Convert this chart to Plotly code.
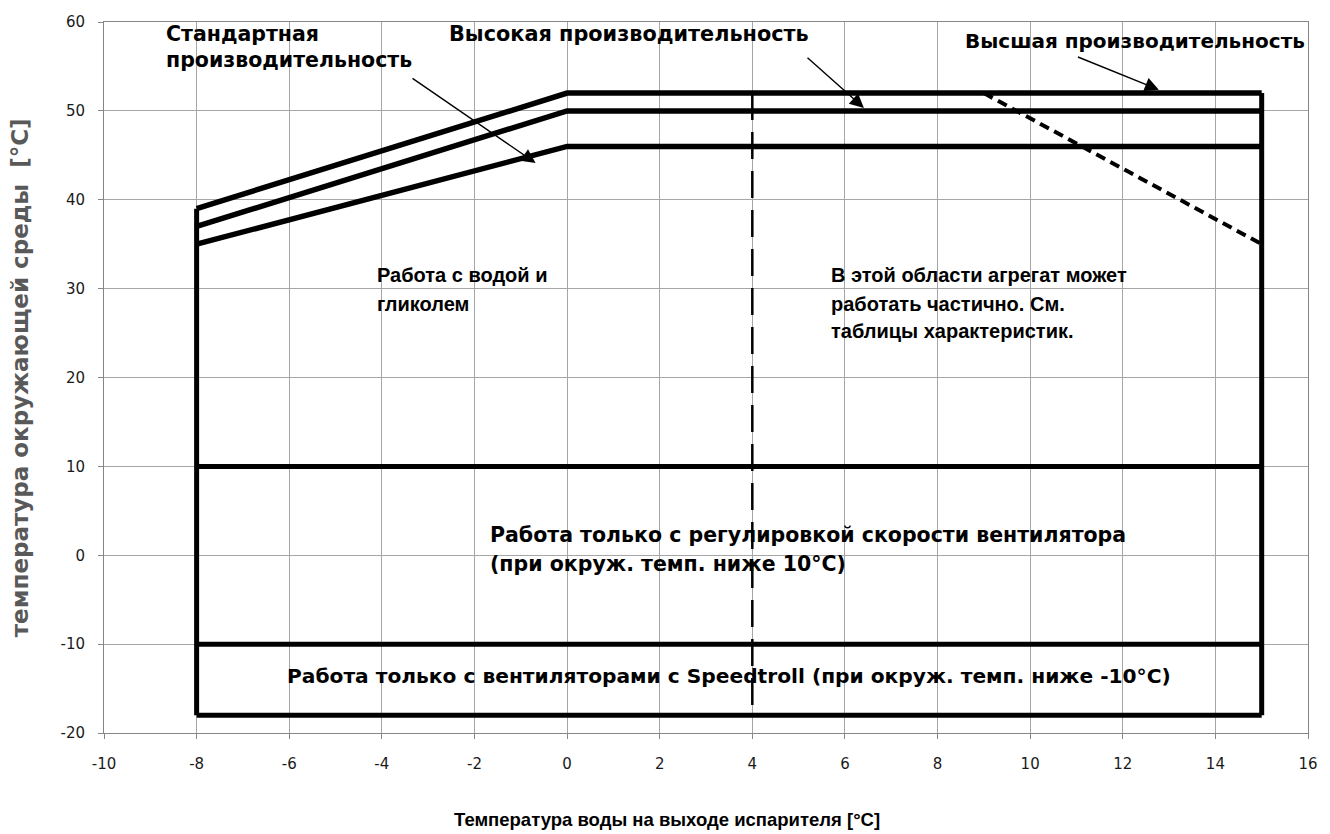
import plotly.graph_objects as go

# Operating envelope boundaries (leaving water temp, ambient temp)
curve_x = [-8, 0, 15]
standard_y = [35, 46, 46]      # standard efficiency
high_y = [37, 50, 50]          # high efficiency
premium_y = [39, 52, 52]       # premium efficiency

left_edge_x = [-8, -8]
left_edge_y = [39, -18]
right_edge_x = [15, 15]
right_edge_y = [52, -18]

band_x = [-8, 15]
fan_speed_y = [10, 10]          # below this: fan speed control required
speedtroll_y = [-10, -10]       # below this: Speedtroll fans required
floor_y = [-18, -18]

partial_x = [4, 4]
partial_y = [52, -18]

limit_x = [9, 15]
limit_y = [52, 35]

x_ticks = list(range(-10, 17, 2))
y_ticks = list(range(-20, 61, 10))
x_tick_text = [str(v) for v in x_ticks]
y_tick_text = [str(v) for v in y_ticks]

BLACK = "#000000"
WIDE = "DejaVu Sans, sans-serif"
NARROW = "Liberation Sans, Arial, sans-serif"

fig = go.Figure()

def solid(x, y, width=5):
    fig.add_trace(go.Scatter(x=x, y=y, mode="lines",
                             line=dict(color=BLACK, width=width),
                             hoverinfo="skip", showlegend=False))

for yy in (premium_y, high_y, standard_y):
    solid(curve_x, yy, 5.5)
solid(left_edge_x, left_edge_y)
solid(right_edge_x, right_edge_y)
for yy in (fan_speed_y, speedtroll_y, floor_y):
    solid(band_x, yy, 5)

fig.add_trace(go.Scatter(x=partial_x, y=partial_y, mode="lines",
                         line=dict(color=BLACK, width=2.5, dash="27px,12px"),
                         hoverinfo="skip", showlegend=False))
fig.add_trace(go.Scatter(x=limit_x, y=limit_y, mode="lines",
                         line=dict(color=BLACK, width=4, dash="10px,6px"),
                         hoverinfo="skip", showlegend=False))

# Region and curve labels, one annotation per line: (text, x, y, family, size)
labels = [
    ("Стандартная", -8.70, 58.68, WIDE, 20.5),
    ("производительность", -8.70, 55.76, WIDE, 20.5),
    ("Высокая производительность", -2.59, 58.68, WIDE, 20.8),
    ("Высшая производительность", 8.55, 57.9, WIDE, 20),
    ("Работа с водой и", -4.14, 31.57, NARROW, 20),
    ("гликолем", -4.14, 28.3, NARROW, 20),
    ("В этой области агрегат может", 5.65, 31.57, NARROW, 20),
    ("работать частично. См.", 5.65, 28.3, NARROW, 20),
    ("таблицы характеристик.", 5.65, 25.2, NARROW, 20),
    ("Работа только с регулировкой скорости вентилятора", -1.71, 2.25, WIDE, 20.5),
    ("(при окруж. темп. ниже 10°C)", -1.71, -1.0, WIDE, 20.5),
]
for text, x, y, fam, size in labels:
    fig.add_annotation(x=x, y=y, xref="x", yref="y", text=f"<b>{text}</b>",
                       showarrow=False, xanchor="left", yanchor="middle",
                       font=dict(family=fam, size=size, color=BLACK))

fig.add_annotation(x=3.5, y=-13.6, xref="x", yref="y",
                   text="<b>Работа только с вентиляторами с Speedtroll (при окруж. темп. ниже -10°C)</b>",
                   showarrow=False, xanchor="center", yanchor="middle",
                   font=dict(family=WIDE, size=20.2, color=BLACK))

# Leader arrows from the curve names to their curves: (head x, head y, tail x, tail y)
arrows = [
    (-0.68, 44.14, -3.37, 53.77),
    (6.41, 50.33, 5.16, 56.13),
    (12.78, 52.38, 11.0, 56.13),
]
for hx, hy, tx, ty in arrows:
    fig.add_annotation(x=hx, y=hy, ax=tx, ay=ty, xref="x", yref="y",
                       axref="x", ayref="y", text="", showarrow=True,
                       arrowhead=2, arrowsize=2, arrowwidth=1.4,
                       arrowcolor=BLACK)

# Axis titles
fig.add_annotation(x=0.4677, y=-0.121, xref="paper", yref="paper",
                   text="<b>Температура воды на выходе испарителя [°C]</b>",
                   showarrow=False, xanchor="center", yanchor="middle",
                   font=dict(family=NARROW, size=18.5, color=BLACK))
fig.add_annotation(x=-0.07, y=0.5, xref="paper", yref="paper",
                   text="<b>температура окружающей среды&nbsp; [°C]</b>",
                   showarrow=False, xanchor="center", yanchor="middle", textangle=-90,
                   font=dict(family=WIDE, size=23, color="#595959"))

GRID = "#a6a6a6"
AXIS = "#868686"
TICK_FONT = dict(family=WIDE, size=15, color="#1a1a1a")

fig.update_xaxes(range=[-10, 16], tickvals=x_ticks, ticktext=x_tick_text,
                 showgrid=True, gridcolor=GRID, gridwidth=1, zeroline=False,
                 showline=True, linecolor=AXIS, linewidth=1, mirror=True,
                 ticks="outside", ticklen=5, tickcolor=AXIS, tickfont=TICK_FONT,
                 ticklabelstandoff=12)
fig.update_yaxes(range=[-20, 60], tickvals=y_ticks, ticktext=y_tick_text,
                 showgrid=True, gridcolor=GRID, gridwidth=1, zeroline=False,
                 showline=True, linecolor=AXIS, linewidth=1, mirror=True,
                 ticks="outside", ticklen=5, tickcolor=AXIS, tickfont=TICK_FONT,
                 ticklabelstandoff=10)

fig.update_layout(width=1330, height=834, plot_bgcolor="white", paper_bgcolor="white",
                  margin=dict(l=104, r=18, t=22, b=101), showlegend=False)

fig.write_html("out.html")
